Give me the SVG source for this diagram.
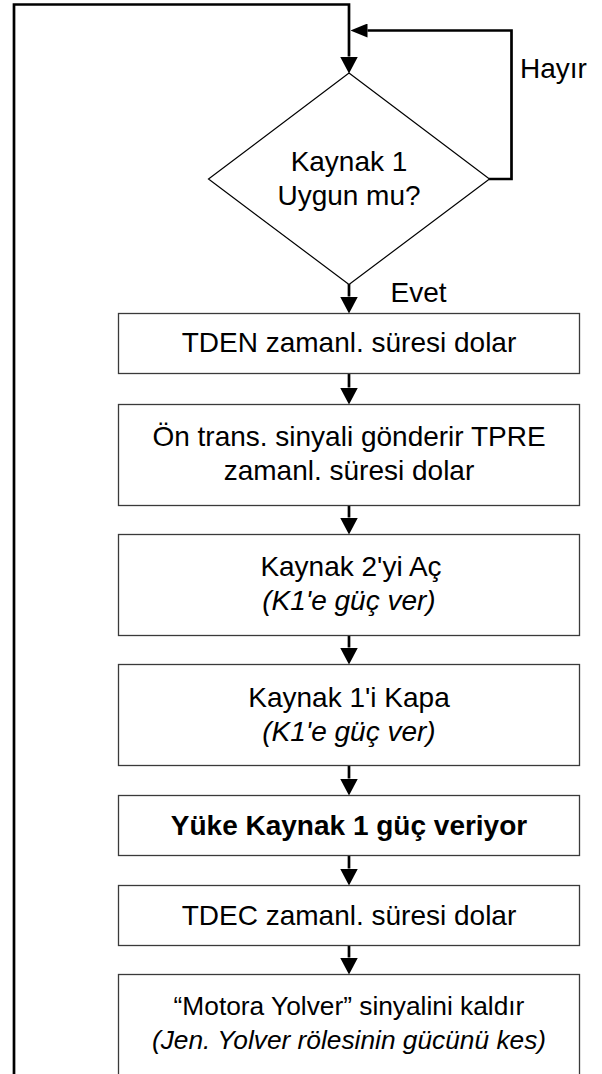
<svg xmlns="http://www.w3.org/2000/svg" width="602" height="1074" viewBox="0 0 602 1074">
<style>
.box{fill:#fff;stroke:#3a3a3a;stroke-width:1.3}
.dia{fill:#fff;stroke:#000;stroke-width:1.2}
.con{fill:none;stroke:#000;stroke-width:2.7}
text{font-family:"Liberation Sans",Arial,sans-serif;font-size:28px;fill:#000}
.c{text-anchor:middle}
.i{font-style:italic}
.b{font-weight:bold}
.s{font-size:26.3px}
</style>
<defs>
<marker id="ad" markerUnits="userSpaceOnUse" markerWidth="17" markerHeight="18" viewBox="0 0 17 18" refX="0" refY="9" orient="auto">
<path d="M0,0 L17,9 L0,18 z" fill="#000"/>
</marker>
<marker id="al" markerUnits="userSpaceOnUse" markerWidth="17" markerHeight="14" viewBox="0 0 17 14" refX="0" refY="7" orient="auto">
<path d="M0,0 L17,7 L0,14 z" fill="#000"/>
</marker>
</defs>
<rect width="602" height="1074" fill="#fff"/>
<g id="connectors">
<path class="con" d="M14,1074 V4.5 H349 V56.5" marker-end="url(#ad)"/>
<path class="con" d="M489,179 H511.5 V30.5 H367.5" marker-end="url(#al)"/>
<path class="con" d="M349,284 V296.5" marker-end="url(#ad)"/>
<path class="con" d="M349,373 V387.5" marker-end="url(#ad)"/>
<path class="con" d="M349,506 V517.5" marker-end="url(#ad)"/>
<path class="con" d="M349,635 V647.5" marker-end="url(#ad)"/>
<path class="con" d="M349,766 V778.5" marker-end="url(#ad)"/>
<path class="con" d="M349,855 V868.5" marker-end="url(#ad)"/>
<path class="con" d="M349,946 V957.5" marker-end="url(#ad)"/>
<text x="520" y="78">Hayır</text>
<text x="390.5" y="302">Evet</text>
</g>
<g id="decision">
<polygon class="dia" points="349,73 489.5,179 349,284.5 208.5,179"/>
<text class="c" x="349" y="171">Kaynak 1</text>
<text class="c" x="349" y="205">Uygun mu?</text>
</g>
<g id="step1">
<rect class="box" x="118.5" y="313.5" width="461" height="60"/>
<text class="c" x="349" y="352">TDEN zamanl. süresi dolar</text>
</g>
<g id="step2">
<rect class="box" x="118.5" y="404.5" width="461" height="101"/>
<text class="c" x="349" y="446">Ön trans. sinyali gönderir TPRE</text>
<text class="c" x="349" y="479.5">zamanl. süresi dolar</text>
</g>
<g id="step3">
<rect class="box" x="118.5" y="534.5" width="461" height="101"/>
<text class="c" x="351" y="576">Kaynak 2'yi Aç</text>
<text class="c i" x="349" y="610">(K1'e güç ver)</text>
</g>
<g id="step4">
<rect class="box" x="118.5" y="664.5" width="461" height="101"/>
<text class="c" x="349" y="707">Kaynak 1'i Kapa</text>
<text class="c i" x="349" y="741">(K1'e güç ver)</text>
</g>
<g id="step5">
<rect class="box" x="118.5" y="795.5" width="461" height="60"/>
<text class="c b" x="349" y="834.5">Yüke Kaynak 1 güç veriyor</text>
</g>
<g id="step6">
<rect class="box" x="118.5" y="885.5" width="461" height="60"/>
<text class="c" x="349" y="924.5">TDEC zamanl. süresi dolar</text>
</g>
<g id="step7">
<rect class="box" x="118.5" y="974.5" width="461" height="120"/>
<text class="c s" x="349" y="1015">“Motora Yolver” sinyalini kaldır</text>
<text class="c i s" x="349" y="1048.5">(Jen. Yolver rölesinin gücünü kes)</text>
</g>
</svg>
